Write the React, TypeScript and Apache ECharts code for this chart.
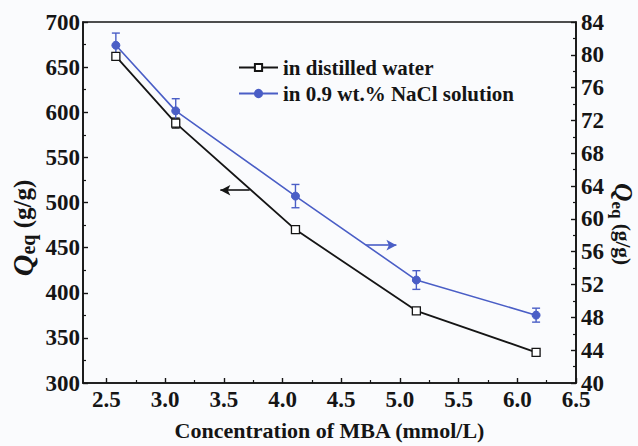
import React, { useEffect, useRef } from "react";
import * as echarts from "echarts";

// MBA crosslinker concentration (mmol/L)
const X_VALUES = [2.58, 3.09, 4.11, 5.14, 6.16];
// Equilibrium water absorbency in distilled water (g/g), left axis
const Q_WATER = [662, 588, 470, 380, 334];
const Q_WATER_ERR = [4, 5.5, 2, 2, 2];
// Equilibrium absorbency in 0.9 wt.% NaCl solution (g/g), right axis
const Q_SALINE = [81.16, 73.17, 62.78, 52.55, 48.27];
const Q_SALINE_ERR = [1.49, 1.48, 1.42, 1.14, 0.85];

const X_TICKS = [2.5, 3.0, 3.5, 4.0, 4.5, 5.0, 5.5, 6.0, 6.5];
const X_MINOR_TICKS = [2.75, 3.25, 3.75, 4.25, 4.75, 5.25, 5.75, 6.25];

const SERIES_NAMES = ["in distilled water", "in 0.9 wt.% NaCl solution"];

// Arrows pointing each curve to its own axis: [x, y] start and end
const WATER_ARROW = [[3.72, 513.6], [3.47, 513.6]];
const SALINE_ARROW = [[4.71, 56.8], [4.97, 56.8]];

const FONT = "Liberation Serif";
const INK = "#151515";
const BLUE = "#4a5ec6";

function errorBarRenderer(color: string) {
  return (_params: any, api: any) => {
    const x = api.value(0);
    const y = api.value(1);
    const e = api.value(2);
    const top = api.coord([x, y + e]);
    const bot = api.coord([x, y - e]);
    const w = 4;
    const style = { stroke: color, lineWidth: 1.4 };
    return {
      type: "group",
      children: [
        { type: "line", shape: { x1: top[0], y1: top[1], x2: bot[0], y2: bot[1] }, style },
        { type: "line", shape: { x1: top[0] - w, y1: top[1], x2: top[0] + w, y2: top[1] }, style },
        { type: "line", shape: { x1: bot[0] - w, y1: bot[1], x2: bot[0] + w, y2: bot[1] }, style },
      ],
    };
  };
}

// Rich styles for the "Q_eq (g/g)" axis titles at a given scale
function titleRich(k: number) {
  return {
    q: { fontFamily: FONT, fontWeight: "bold", fontStyle: "italic", fontSize: 30 * k, fill: INK, lineHeight: 32 * k },
    s: { fontFamily: FONT, fontWeight: "bold", fontSize: 20 * k, fill: INK, verticalAlign: "bottom", lineHeight: 23 * k },
    t: { fontFamily: FONT, fontWeight: "bold", fontSize: 25 * k, fill: INK, lineHeight: 32 * k },
  };
}

export default function App() {
  const ref = useRef<HTMLDivElement>(null);

  useEffect(() => {
    if (!ref.current) return;
    const chart = echarts.init(ref.current, undefined, { renderer: "svg" });

    const tickLabel = { fontFamily: FONT, fontWeight: "bold", fontSize: 23, color: INK };

    chart.setOption({
      animation: false,
      backgroundColor: "#fafbfd",
      grid: {
        left: 83,
        right: 62,
        top: 22,
        bottom: 57,
        show: true,
        borderColor: INK,
        borderWidth: 1.6,
        backgroundColor: "transparent",
      },
      legend: {
        orient: "vertical",
        left: 233,
        top: 52,
        itemWidth: 39,
        itemHeight: 9,
        itemGap: 5,
        data: SERIES_NAMES,
        textStyle: { fontFamily: FONT, fontWeight: "bold", fontSize: 21, color: INK },
      },
      xAxis: [
        {
          type: "value",
          position: "bottom",
          min: 2.3,
          max: 6.5,
          axisLine: { show: true, onZero: false, lineStyle: { color: INK, width: 1.6 } },
          axisTick: { show: true, inside: true, length: 5, customValues: X_TICKS, lineStyle: { color: INK, width: 1.4 } },
          axisLabel: { ...tickLabel, margin: 5, customValues: X_TICKS, formatter: (v: number) => v.toFixed(1) },
          splitLine: { show: false },
          name: "Concentration of MBA (mmol/L)",
          nameLocation: "middle",
          nameGap: 36,
          nameTextStyle: { fontFamily: FONT, fontWeight: "bold", fontSize: 22, color: INK },
        },
        {
          type: "value",
          position: "bottom",
          min: 2.3,
          max: 6.5,
          axisLine: { show: false, onZero: false },
          axisTick: { show: true, inside: true, length: 3, customValues: X_MINOR_TICKS, lineStyle: { color: INK, width: 1.2 } },
          axisLabel: { show: false },
          splitLine: { show: false },
        },
      ],
      yAxis: [
        {
          type: "value",
          position: "left",
          min: 300,
          max: 700,
          interval: 50,
          axisLine: { show: true, lineStyle: { color: INK, width: 1.6 } },
          axisTick: { show: true, inside: true, length: 5, lineStyle: { color: INK, width: 1.4 } },
          minorTick: { show: true, splitNumber: 2, length: 3, lineStyle: { color: INK, width: 1.2 } },
          axisLabel: { ...tickLabel, margin: 3 },
          splitLine: { show: false },
        },
        {
          type: "value",
          position: "right",
          min: 40,
          max: 84,
          interval: 4,
          axisLine: { show: true, lineStyle: { color: INK, width: 1.6 } },
          axisTick: { show: true, inside: true, length: 5, lineStyle: { color: INK, width: 1.4 } },
          minorTick: { show: true, splitNumber: 2, length: 3, lineStyle: { color: INK, width: 1.2 } },
          axisLabel: { ...tickLabel, margin: 5 },
          splitLine: { show: false },
        },
      ],
      series: [
        {
          type: "custom",
          name: "water-err",
          xAxisIndex: 0,
          yAxisIndex: 0,
          z: 1,
          silent: true,
          encode: { x: 0, y: 1 },
          data: X_VALUES.map((x, i) => [x, Q_WATER[i], Q_WATER_ERR[i]]),
          renderItem: errorBarRenderer(INK),
        },
        {
          type: "custom",
          name: "saline-err",
          xAxisIndex: 0,
          yAxisIndex: 1,
          z: 1,
          silent: true,
          encode: { x: 0, y: 1 },
          data: X_VALUES.map((x, i) => [x, Q_SALINE[i], Q_SALINE_ERR[i]]),
          renderItem: errorBarRenderer(BLUE),
        },
        {
          type: "line",
          name: SERIES_NAMES[0],
          xAxisIndex: 0,
          yAxisIndex: 0,
          z: 3,
          data: X_VALUES.map((x, i) => [x, Q_WATER[i]]),
          symbol: "rect",
          symbolSize: 8,
          showAllSymbol: true,
          lineStyle: { color: INK, width: 1.8 },
          itemStyle: { color: "#ffffff", borderColor: INK, borderWidth: 1.3 },
          markLine: {
            silent: true,
            symbol: ["none", "arrow"],
            symbolSize: [8, 10],
            label: { show: false },
            lineStyle: { color: INK, width: 1.6, type: "solid" },
            data: [[{ coord: WATER_ARROW[0] }, { coord: WATER_ARROW[1] }]],
          },
        },
        {
          type: "line",
          name: SERIES_NAMES[1],
          xAxisIndex: 0,
          yAxisIndex: 1,
          z: 3,
          data: X_VALUES.map((x, i) => [x, Q_SALINE[i]]),
          symbol: "circle",
          symbolSize: 8,
          showAllSymbol: true,
          lineStyle: { color: BLUE, width: 1.6 },
          itemStyle: { color: BLUE, borderColor: BLUE, borderWidth: 1 },
          markLine: {
            silent: true,
            symbol: ["none", "arrow"],
            symbolSize: [8, 10],
            label: { show: false },
            lineStyle: { color: BLUE, width: 1.6, type: "solid" },
            data: [[{ coord: SALINE_ARROW[0] }, { coord: SALINE_ARROW[1] }]],
          },
        },
      ],
      graphic: [
        {
          type: "text",
          x: 22,
          y: 228,
          rotation: Math.PI / 2,
          style: {
            text: "{q|Q}{s|eq}{t| (g/g)}",
            rich: titleRich(1),
            align: "center",
            verticalAlign: "middle",
          },
        },
        {
          type: "text",
          x: 623,
          y: 224,
          rotation: -Math.PI / 2,
          style: {
            text: "{q|Q}{s|eq}{t| (g/g)}",
            rich: titleRich(0.85),
            align: "center",
            verticalAlign: "middle",
          },
        },
      ],
    });

    return () => chart.dispose();
  }, []);

  return (
    <div
      ref={ref}
      style={{ position: "absolute", left: 0, top: 0, width: 638, height: 446 }}
    />
  );
}
